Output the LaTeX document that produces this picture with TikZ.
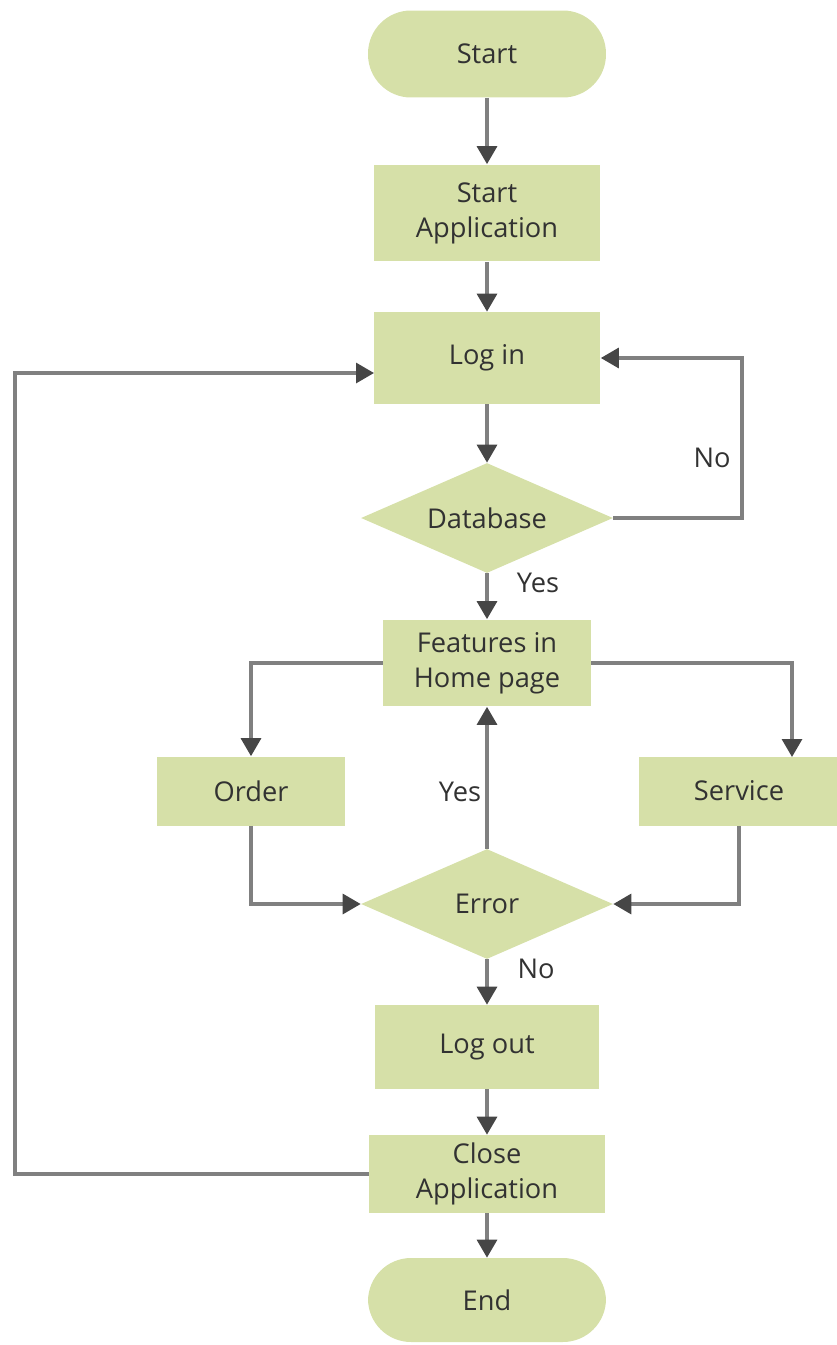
\documentclass[tikz,border=0pt]{standalone}
\usepackage{fontspec}
\setmainfont{Open Sans}
\usetikzlibrary{shapes.geometric,arrows.meta}
\definecolor{boxgreen}{RGB}{214,224,168}
\definecolor{linegray}{RGB}{128,128,128}
\definecolor{tipgray}{RGB}{70,70,70}
\definecolor{textgray}{RGB}{50,50,50}

\begin{document}
\begin{tikzpicture}[x=0.02cm, y=-0.02cm,
    every node/.style={font=\fontsize{15.5}{20}\selectfont, text=textgray},
    box/.style={rectangle, fill=boxgreen, align=center, inner sep=0pt},
    term/.style={box, rounded corners=0.86cm, minimum width=4.76cm, minimum height=1.74cm},
    cond/.style={diamond, fill=boxgreen, inner sep=0pt, shape aspect=2.3, minimum width=5.04cm, minimum height=2.2cm},
    arr/.style={draw=linegray, line width=1.8pt, -{Triangle[length=0.36cm, width=0.4cm, color=tipgray]}}]
    \useasboundingbox (0,0) rectangle (836,1345);

    \node[term] (start) at (487,54) {Start};
    \node[box, minimum width=4.54cm, minimum height=1.94cm] (startapp) at (487,213) {Start\\Application};
    \node[box, minimum width=4.54cm, minimum height=1.84cm] (login) at (487,358) {Log in};
    \node[cond] (db) at (487,518) {Database};
    \node[box, minimum width=4.16cm, minimum height=1.74cm] (features) at (487,663) {Features in\\Home page};
    \node[box, minimum width=3.76cm, minimum height=1.38cm] (order) at (251,791) {Order};
    \node[box, minimum width=4.0cm, minimum height=1.38cm] (service) at (739,791) {Service};
    \node[cond] (error) at (487,904) {Error};
    \node[box, minimum width=4.48cm, minimum height=1.68cm] (logout) at (487,1047) {Log out};
    \node[box, minimum width=4.72cm, minimum height=1.56cm] (close) at (487,1174) {Close\\Application};
    \node[term, minimum height=1.68cm] (end) at (487,1300) {End};

    \coordinate (dbturn) at (742,518);
    \coordinate (svcin) at (792,757);
    \coordinate (loopturn) at (15,1174);
    \coordinate (loginin) at (374,373);

    \draw[arr] (start) -- (startapp);
    \draw[arr] (startapp) -- (login);
    \draw[arr] (login) -- (db);
    \draw[arr] (db) -- (features);
    \draw[arr] (db.east) -- (dbturn) |- (login.east);
    \draw[arr] (features.west) -| (order.north);
    \draw[arr] (features.east) -| (svcin);
    \draw[arr] (order.south) |- (error.west);
    \draw[arr] (service.south) |- (error.east);
    \draw[arr] (error) -- (features);
    \draw[arr] (error) -- (logout);
    \draw[arr] (logout) -- (close);
    \draw[arr] (close) -- (end);
    \draw[arr] (close.west) -- (loopturn) |- (loginin);

    \node (dbyes) at (538,583) {Yes};
    \node (dbno) at (712,458) {No};
    \node (erryes) at (460,792) {Yes};
    \node (errno) at (536,969) {No};
\end{tikzpicture}
\end{document}
